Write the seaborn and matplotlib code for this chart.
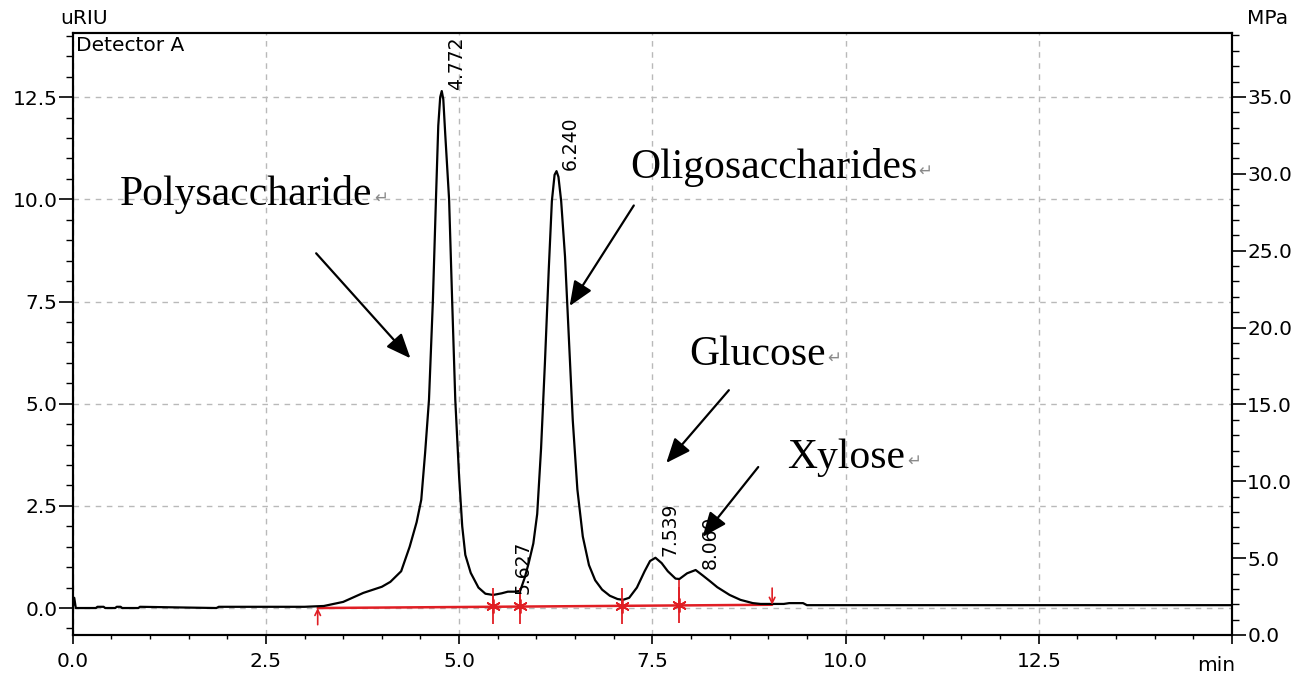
import numpy as np
import pandas as pd
import matplotlib
matplotlib.use("Agg")
import matplotlib.pyplot as plt
import seaborn as sns
from matplotlib.ticker import MultipleLocator, FormatStrFormatter

# ---------------- data ----------------
time_min = [0.00, 0.02, 0.04, 0.06, 0.30, 0.32, 0.40, 0.42, 0.55, 0.57, 0.62, 0.64, 0.85, 0.87,
            1.86, 1.89, 3.00, 3.25, 3.50, 3.76, 4.00, 4.11, 4.25, 4.36, 4.45, 4.51, 4.56, 4.61,
            4.66, 4.70, 4.73, 4.755, 4.775, 4.795, 4.82, 4.87, 4.91, 4.95, 5.00, 5.04, 5.08,
            5.15, 5.25, 5.34, 5.44, 5.55, 5.63, 5.72, 5.79, 5.85, 5.90, 5.96, 6.01, 6.06, 6.11,
            6.16, 6.20, 6.235, 6.26, 6.285, 6.32, 6.37, 6.42, 6.47, 6.53, 6.60, 6.68, 6.76,
            6.85, 6.95, 7.05, 7.12, 7.20, 7.30, 7.40, 7.47, 7.54, 7.62, 7.70, 7.80, 7.85,
            7.95, 8.06, 8.15, 8.25, 8.34, 8.50, 8.64, 8.80, 8.90, 9.20, 9.27, 9.45, 9.50,
            10.00, 15.00]
signal_uriu = [0.00, 0.25, 0.00, 0.00, 0.00, 0.03, 0.03, 0.00, 0.00, 0.03, 0.03, 0.00, 0.00, 0.03,
               0.00, 0.03, 0.03, 0.05, 0.15, 0.37, 0.52, 0.64, 0.90, 1.50, 2.10, 2.65, 3.80, 5.10,
               7.50, 10.00, 11.80, 12.50, 12.65, 12.45, 11.60, 10.00, 7.50, 5.10, 3.20, 2.00, 1.30,
               0.86, 0.50, 0.35, 0.32, 0.36, 0.40, 0.40, 0.42, 0.75, 1.10, 1.58, 2.30, 3.90, 6.00,
               8.30, 9.96, 10.60, 10.69, 10.55, 9.96, 8.60, 6.60, 4.60, 2.90, 1.75, 1.05, 0.68,
               0.45, 0.30, 0.22, 0.20, 0.25, 0.50, 0.90, 1.15, 1.23, 1.10, 0.90, 0.72, 0.71,
               0.85, 0.93, 0.80, 0.65, 0.51, 0.32, 0.20, 0.12, 0.10, 0.10, 0.12, 0.12, 0.07,
               0.07, 0.07]

peak_rt = [4.772, 5.627, 6.240, 7.539, 8.060]
peak_height = [12.65, 0.32, 10.69, 1.23, 0.93]
peak_labels = ["4.772", "5.627", "6.240", "7.539", "8.060"]

baseline_times = [3.17, 9.05]
baseline_values = [0.00, 0.08]
split_times = [5.44, 5.79, 7.11, 7.85]
split_base = [0.04, 0.05, 0.06, 0.07]
split_curve = [0.32, 0.42, 0.20, 0.71]

annot_texts = ["Polysaccharide", "Oligosaccharides", "Glucose", "Xylose"]
annot_x = [0.61, 7.21, 7.98, 9.25]
annot_y = [9.86, 10.52, 5.94, 3.42]
arrow_tail_x = [3.15, 7.26, 8.49, 8.87]
arrow_tail_y = [8.68, 9.85, 5.33, 3.45]
arrow_head_x = [4.37, 6.43, 7.68, 8.15]
arrow_head_y = [6.11, 7.39, 3.55, 1.74]

x_ticks = [0.0, 2.5, 5.0, 7.5, 10.0, 12.5, 15.0]
x_tick_labels = ["0.0", "2.5", "5.0", "7.5", "10.0", "12.5", ""]
left_ticks = [0.0, 2.5, 5.0, 7.5, 10.0, 12.5]
right_ticks = [0.0, 5.0, 10.0, 15.0, 20.0, 25.0, 30.0, 35.0]

# ---------------- style ----------------
sns.set_style("white")
plt.rcParams["font.family"] = ["DejaVu Sans"]
plt.rcParams["text.color"] = "black"
plt.rcParams["xtick.color"] = "black"
plt.rcParams["ytick.color"] = "black"
plt.rcParams["axes.labelcolor"] = "black"
FS = 14.5
RED = "#e01e24"
GRID = "#b9b9b9"

fig = plt.figure(figsize=(13.07, 6.77), dpi=100)
L, R, B, T = 72.7 / 1307, 1232 / 1307, (677 - 635) / 677, (677 - 33) / 677
ax = fig.add_axes([L, B, R - L, T - B])

df = pd.DataFrame({"time": time_min, "signal": signal_uriu})
sns.lineplot(data=df, x="time", y="signal", ax=ax, color="black", lw=1.6,
             estimator=None, sort=False, zorder=5)

ax.set_xlim(0, 15)
ax.set_ylim(-0.66, 14.07)
ax.set_xlabel("")
ax.set_ylabel("")

ax.set_xticks(x_ticks)
ax.set_xticklabels(x_tick_labels)
ax.xaxis.set_minor_locator(MultipleLocator(0.5))
ax.set_yticks(left_ticks)
ax.yaxis.set_major_formatter(FormatStrFormatter("%.1f"))
ax.yaxis.set_minor_locator(MultipleLocator(0.5))

ax.tick_params(axis="x", which="major", direction="out", length=6.5, width=1.2,
               labelsize=FS, pad=6, bottom=True, colors="black")
ax.tick_params(axis="x", which="minor", direction="out", length=3, width=1.0, bottom=True,
               colors="black")
ax.tick_params(axis="y", which="major", direction="out", length=10, width=1.2,
               labelsize=FS, pad=1, left=True, colors="black")
ax.tick_params(axis="y", which="minor", direction="out", length=5, width=1.0, left=True,
               colors="black")

for sp in ax.spines.values():
    sp.set_visible(True)
    sp.set_color("black")
    sp.set_linewidth(1.5)

ax.grid(True, which="major", color=GRID, linestyle=(0, (4, 4)), linewidth=1.0)
ax.set_axisbelow(True)

# right axis
ax2 = ax.twinx()
ax2.set_ylim(0, 39.16)
ax2.set_yticks(right_ticks)
ax2.yaxis.set_major_formatter(FormatStrFormatter("%.1f"))
ax2.yaxis.set_minor_locator(MultipleLocator(1.0))
ax2.tick_params(axis="y", which="major", direction="out", length=10, width=1.2,
                labelsize=FS, pad=1, right=True, colors="black")
ax2.tick_params(axis="y", which="minor", direction="out", length=5, width=1.0, right=True,
                colors="black")
ax2.grid(False)
for sp in ax2.spines.values():
    sp.set_linewidth(1.5)
    sp.set_color("black")

# integration baseline and markers
ax.plot(baseline_times, baseline_values, color=RED, lw=1.8, zorder=4)
for t, b, c in zip(split_times, split_base, split_curve):
    ax.plot([t, t], [b, c], color=RED, lw=1.2, zorder=4)
ax.scatter(split_times, split_base, marker="|", s=700, color=RED, linewidths=1.3, zorder=6)
ax.scatter(split_times, split_base, marker=(6, 2, 0), s=90, color=RED, linewidths=1.3, zorder=6)
ax.annotate("", xy=(baseline_times[0], baseline_values[0]), xytext=(0, -12),
            textcoords="offset points",
            arrowprops=dict(arrowstyle="->", color=RED, lw=1.2, shrinkA=0, shrinkB=0), zorder=6)
ax.annotate("", xy=(baseline_times[1], baseline_values[1]), xytext=(0, 12),
            textcoords="offset points",
            arrowprops=dict(arrowstyle="->", color=RED, lw=1.2, shrinkA=0, shrinkB=0), zorder=6)

# peak retention-time labels
for rt, h, lab in zip(peak_rt, peak_height, peak_labels):
    ax.annotate(lab, xy=(rt, h), xytext=(4, 1), textcoords="offset points",
                rotation=90, ha="left", va="bottom", fontsize=FS - 1, color="black", zorder=7)

# compound annotations
for txt, x, y, tx, ty, hx, hy in zip(annot_texts, annot_x, annot_y,
                                      arrow_tail_x, arrow_tail_y, arrow_head_x, arrow_head_y):
    t = ax.text(x, y, txt, fontsize=30, family=["Liberation Serif", "DejaVu Serif"],
                ha="left", va="baseline", color="black", zorder=8)
    ax.annotate("\u21b5", xy=(1, 0), xycoords=t, xytext=(1, 5.5), textcoords="offset points",
                ha="left", va="bottom", fontsize=12, color="#8a8a8a", zorder=8)
    ax.annotate("", xy=(hx, hy), xytext=(tx, ty),
                arrowprops=dict(arrowstyle="-|>,head_length=0.6,head_width=0.25",
                                mutation_scale=25, color="black", lw=1.6,
                                shrinkA=0, shrinkB=0), zorder=9)

# axis titles / unit labels
ax.text(-0.011, 1.008, "uRIU", transform=ax.transAxes, ha="left", va="bottom", fontsize=FS)
ax2.text(1.013, 1.008, "MPa", transform=ax.transAxes, ha="left", va="bottom", fontsize=FS)
ax.text(1.003, -0.035, "min", transform=ax.transAxes, ha="right", va="top", fontsize=FS)
ax.text(0.003, 0.995, "Detector A", transform=ax.transAxes, ha="left", va="top", fontsize=FS)

fig.savefig("out.png", dpi=100)
